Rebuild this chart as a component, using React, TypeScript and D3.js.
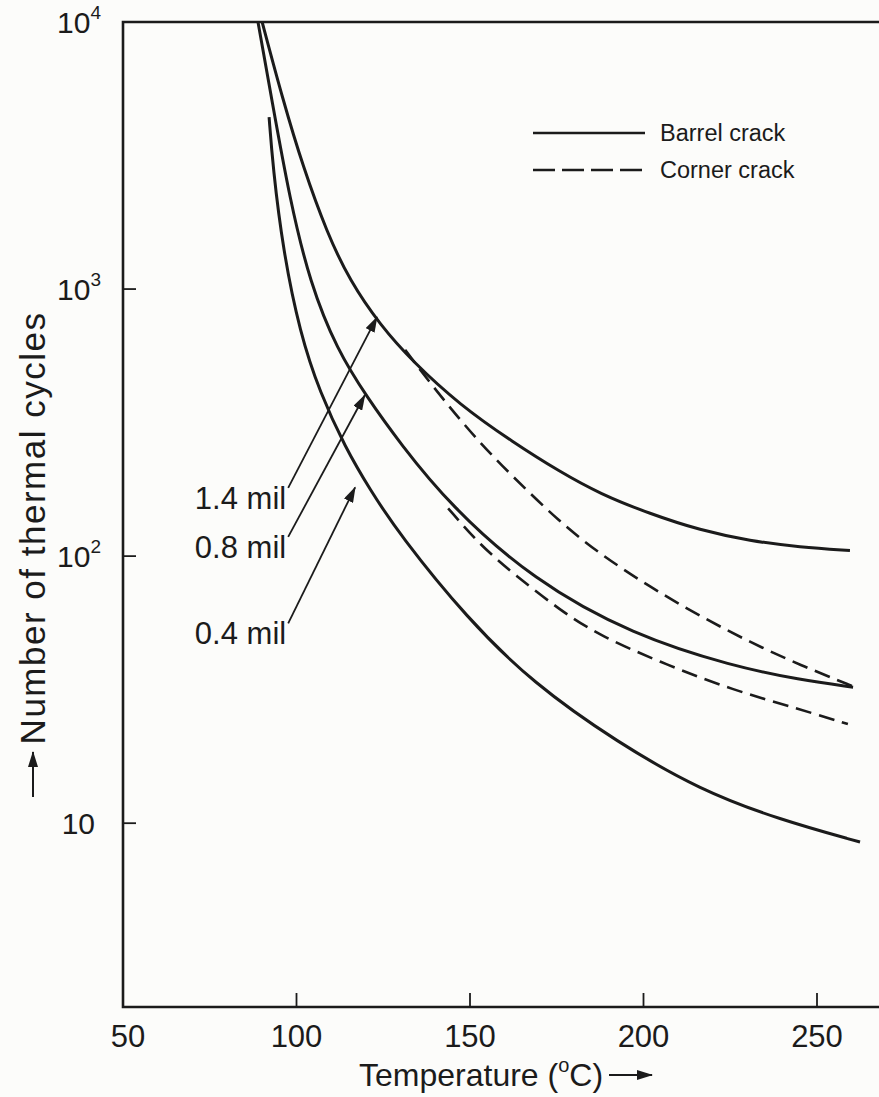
import React from 'react';
import * as d3 from 'd3';

const W = 879;
const H = 1097;

// values (temperature in °C, number of cycles)
const barrel14T = [90.1, 96.1, 101.9, 108.8, 115.4, 124.1, 133.6, 147.1, 162.4, 175.9, 187.5, 201.9, 216.3, 230.7, 245.1, 259.5];
const barrel14N = [10000, 5100, 2865, 1622, 1072, 733, 533, 368, 267, 207, 171, 144, 125, 114, 108, 105];

const barrel08T = [88.9, 92.9, 98.1, 103.9, 111.7, 120.3, 129.8, 144.2, 168.2, 197.0, 225.8, 245.1, 260.4];
const barrel08N = [10000, 5100, 2153, 1052, 592, 394, 265, 155, 81.3, 50.6, 38.7, 34.4, 32.3];

const barrel04T = [92.1, 93.2, 96.1, 101.0, 106.8, 114.0, 121.2, 129.8, 149.1, 168.2, 192.4, 216.3, 239.3, 262.4];
const barrel04N = [4406, 2865, 1400, 684, 408, 256, 177, 120, 58.6, 33.4, 20.1, 13.3, 10.3, 8.5];

const corner14T = [131.3, 138.5, 150.0, 161.5, 175.9, 187.5, 201.9, 216.3, 230.7, 245.1, 261.0];
const corner14N = [592, 445, 291, 203, 134, 101.7, 76.6, 59.6, 47.6, 39.1, 32.3];

const corner08T = [143.7, 152.9, 163.0, 175.9, 187.5, 206.8, 225.8, 245.1, 258.9];
const corner08N = [151, 110, 84.9, 62.8, 50.2, 39.1, 31.5, 26.7, 23.5];

const xTicks = [50, 100, 150, 200, 250];
const yTicks = [10, 100, 1000, 10000];

const thickness = ['1.4 mil', '0.8 mil', '0.4 mil'];
const leaderFromT = [97.6, 97.6, 97.6];
const leaderFromN = [180, 118, 56];
const leaderToT = [123.2, 119.7, 116.9];
const leaderToN = [785, 401, 181];

const legendNames = ['Barrel crack', 'Corner crack'];

const series = [
  { t: barrel14T, n: barrel14N, dashed: false },
  { t: barrel08T, n: barrel08N, dashed: false },
  { t: barrel04T, n: barrel04N, dashed: false },
  { t: corner14T, n: corner14N, dashed: true },
  { t: corner08T, n: corner08N, dashed: true },
];

const ink = '#1b1b1b';
const font = '"Liberation Sans", Arial, Helvetica, sans-serif';

export default function App() {
  const x = d3.scaleLinear().domain([50, 272]).range([123, 123 + 222 * 3.47]);
  const y = d3.scaleLog().domain([2.05, 10000]).range([1007, 22]);

  const left = x(50);
  const top = y(10000);
  const bottom = y(2.05);

  // hand-drawn curves in the original, so a smoothing spline suits them
  const line = d3
    .line<[number, number]>()
    .x((d) => x(d[0]))
    .y((d) => y(d[1]))
    .curve(d3.curveBasis);

  return (
    <svg
      width={W}
      height={H}
      style={{ position: 'absolute', left: 0, top: 0, background: '#fcfcfa' }}
      fontFamily={font}
    >
      <defs>
        <clipPath id="plot">
          <rect x={left} y={top} width={W} height={bottom - top} />
        </clipPath>
        <marker id="head" viewBox="0 0 16 10" refX="15" refY="5" markerWidth="16" markerHeight="10" markerUnits="userSpaceOnUse" orient="auto">
          <path d="M0,0 L16,5 L0,10 Z" fill={ink} />
        </marker>
      </defs>

      {/* frame */}
      <path d={`M${W + 5},${top} H${left} V${bottom} H${W + 5}`} fill="none" stroke={ink} strokeWidth={2.6} />

      {/* x ticks */}
      {xTicks.map((t) => (
        <g key={t}>
          {t > 50 && <line x1={x(t)} x2={x(t)} y1={bottom} y2={bottom - 14} stroke={ink} strokeWidth={1.8} />}
          <text x={x(t) + (t === 50 ? 5 : 0)} y={bottom + 40} textAnchor="middle" fontSize={31} fill={ink}>
            {t}
          </text>
        </g>
      ))}

      {/* y ticks */}
      {yTicks.map((v) => {
        const k = Math.round(Math.log10(v));
        return (
          <g key={v}>
            {v < 10000 && <line x1={left} x2={left + 13} y1={y(v)} y2={y(v)} stroke={ink} strokeWidth={1.8} />}
            {k === 1 ? (
              <text x={95} y={y(v) + 11} textAnchor="end" fontSize={30} fill={ink}>10</text>
            ) : (
              <text x={101} y={y(v) + 11} textAnchor="end" fontSize={30} fill={ink}>
                10<tspan fontSize={19} dy={-14}>{k}</tspan>
              </text>
            )}
          </g>
        );
      })}

      {/* curves */}
      <g clipPath="url(#plot)" fill="none" stroke={ink} strokeLinecap="butt">
        {series.map((s, i) => (
          <path
            key={i}
            d={line(s.t.map((t, j) => [t, s.n[j]] as [number, number])) || ''}
            strokeWidth={s.dashed ? 2.6 : 3}
            strokeDasharray={s.dashed ? '16 8' : undefined}
          />
        ))}
      </g>

      {/* thickness labels with leaders */}
      {thickness.map((name, i) => {
        const x0 = x(leaderFromT[i]);
        const y0 = y(leaderFromN[i]);
        return (
          <g key={name}>
            <line x1={x0} y1={y0} x2={x(leaderToT[i])} y2={y(leaderToN[i])} stroke={ink} strokeWidth={1.8} markerEnd="url(#head)" />
            <text x={x0 - 2} y={y0 + 21} textAnchor="end" fontSize={31} fill={ink}>{name}</text>
          </g>
        );
      })}

      {/* legend */}
      {legendNames.map((name, i) => {
        const ly = 133 + i * 37;
        return (
          <g key={name}>
            <line x1={533} x2={645} y1={ly} y2={ly} stroke={ink} strokeWidth={2.6} strokeDasharray={i === 1 ? '22 7' : undefined} />
            <text x={660} y={ly + 8} fontSize={23.5} fill={ink}>{name}</text>
          </g>
        );
      })}

      {/* axis titles */}
      <text x={359} y={1086} fontSize={32} fill={ink}>
        Temperature (<tspan fontSize={20} dy={-14}>o</tspan><tspan dy={14}>C)</tspan>
      </text>
      <line x1={609} x2={652} y1={1075} y2={1075} stroke={ink} strokeWidth={2} markerEnd="url(#head)" />

      <g transform="translate(45, 528) rotate(-90)">
        <text textAnchor="middle" fontSize={35} letterSpacing={1.5} fill={ink}>Number of thermal cycles</text>
      </g>
      <line x1={33} x2={33} y1={797} y2={752} stroke={ink} strokeWidth={2} markerEnd="url(#head)" />
    </svg>
  );
}
